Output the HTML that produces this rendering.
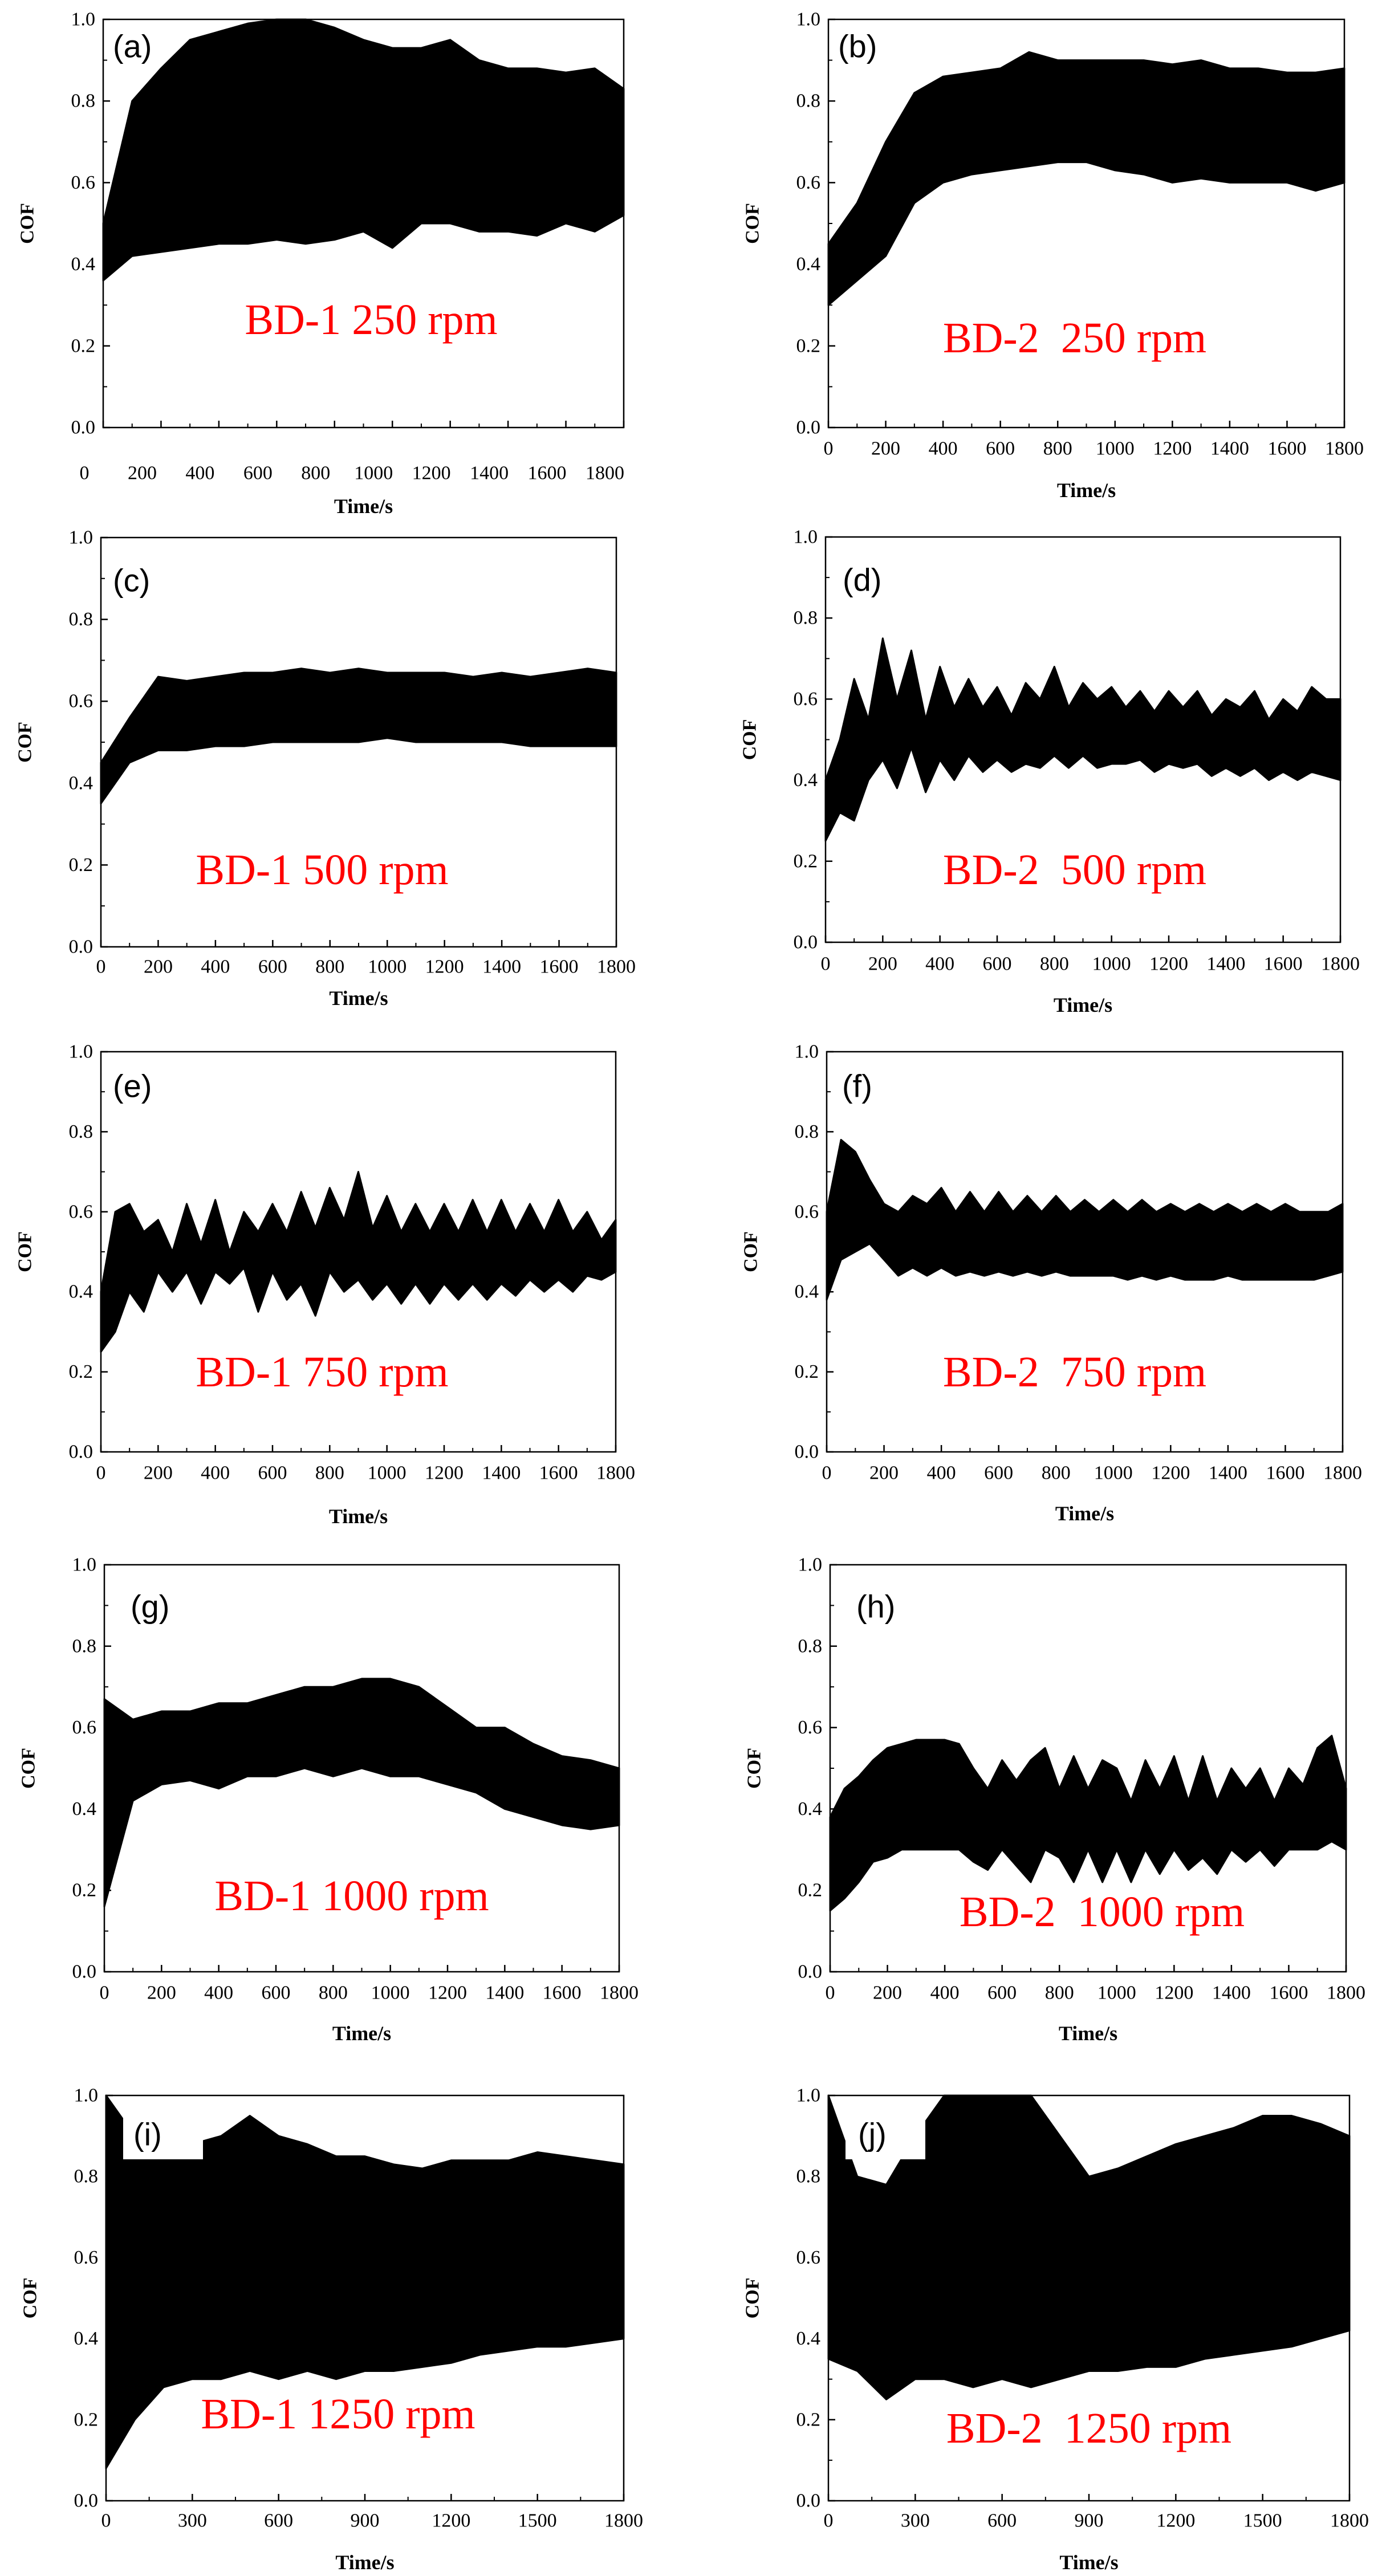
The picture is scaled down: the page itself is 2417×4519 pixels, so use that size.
<!DOCTYPE html>
<html><head><meta charset="utf-8">
<style>
html,body{margin:0;padding:0;background:#fff;}
svg{display:block;}
</style></head>
<body>
<svg id="fig" xmlns="http://www.w3.org/2000/svg" width="2417" height="4519" viewBox="0 0 2417 4519"></svg>
<script>
// ---- data (COF envelopes) ----
const yTicks = [0.0, 0.2, 0.4, 0.6, 0.8, 1.0];
const yTickLabels = ["0.0","0.2","0.4","0.6","0.8","1.0"];
const xTicks200 = [0,200,400,600,800,1000,1200,1400,1600,1800];
const xTicks300 = [0,300,600,900,1200,1500,1800];
const T100 = [0,100,200,300,400,500,600,700,800,900,1000,1100,1200,1300,1400,1500,1600,1700,1800];
const T50 = [0,50,100,150,200,250,300,350,400,450,500,550,600,650,700,750,800,850,900,950,1000,1050,1100,1150,1200,1250,1300,1350,1400,1450,1500,1550,1600,1650,1700,1750,1800];

const aHi = [0.5,0.8,0.88,0.95,0.97,0.99,1.0,1.0,0.98,0.95,0.93,0.93,0.95,0.9,0.88,0.88,0.87,0.88,0.83];
const aLo = [0.36,0.42,0.43,0.44,0.45,0.45,0.46,0.45,0.46,0.48,0.44,0.5,0.5,0.48,0.48,0.47,0.5,0.48,0.52];
const bHi = [0.45,0.55,0.7,0.82,0.86,0.87,0.88,0.92,0.9,0.9,0.9,0.9,0.89,0.9,0.88,0.88,0.87,0.87,0.88];
const bLo = [0.3,0.36,0.42,0.55,0.6,0.62,0.63,0.64,0.65,0.65,0.63,0.62,0.6,0.61,0.6,0.6,0.6,0.58,0.6];
const cHi = [0.45,0.56,0.66,0.65,0.66,0.67,0.67,0.68,0.67,0.68,0.67,0.67,0.67,0.66,0.67,0.66,0.67,0.68,0.67];
const cLo = [0.35,0.45,0.48,0.48,0.49,0.49,0.5,0.5,0.5,0.5,0.51,0.5,0.5,0.5,0.5,0.49,0.49,0.49,0.49];
const dHi = [0.4,0.5,0.65,0.55,0.75,0.6,0.72,0.55,0.68,0.58,0.65,0.58,0.63,0.56,0.64,0.6,0.68,0.58,0.64,0.6,0.63,0.58,0.62,0.57,0.62,0.58,0.62,0.56,0.6,0.58,0.62,0.55,0.6,0.57,0.63,0.6,0.6];
const dLo = [0.25,0.32,0.3,0.4,0.45,0.38,0.48,0.37,0.45,0.4,0.46,0.42,0.45,0.42,0.44,0.43,0.46,0.43,0.46,0.43,0.44,0.44,0.45,0.42,0.44,0.43,0.44,0.41,0.43,0.41,0.43,0.4,0.42,0.4,0.42,0.41,0.4];
const eHi = [0.4,0.6,0.62,0.55,0.58,0.5,0.62,0.52,0.63,0.5,0.6,0.55,0.62,0.55,0.65,0.56,0.66,0.58,0.7,0.56,0.64,0.55,0.62,0.55,0.62,0.55,0.63,0.55,0.63,0.55,0.62,0.55,0.63,0.55,0.6,0.53,0.58];
const eLo = [0.25,0.3,0.4,0.35,0.45,0.4,0.45,0.37,0.45,0.42,0.46,0.35,0.45,0.38,0.42,0.34,0.45,0.4,0.43,0.38,0.42,0.37,0.42,0.37,0.42,0.38,0.42,0.38,0.42,0.39,0.43,0.4,0.43,0.4,0.44,0.43,0.45];
const fHi = [0.6,0.78,0.75,0.68,0.62,0.6,0.64,0.62,0.66,0.6,0.65,0.6,0.65,0.6,0.64,0.6,0.64,0.6,0.63,0.6,0.63,0.6,0.63,0.6,0.62,0.6,0.62,0.6,0.62,0.6,0.62,0.6,0.62,0.6,0.6,0.6,0.62];
const fLo = [0.38,0.48,0.5,0.52,0.48,0.44,0.46,0.44,0.46,0.44,0.45,0.44,0.45,0.44,0.45,0.44,0.45,0.44,0.44,0.44,0.44,0.43,0.44,0.43,0.44,0.43,0.43,0.43,0.44,0.43,0.43,0.43,0.43,0.43,0.43,0.44,0.45];
const gHi = [0.67,0.62,0.64,0.64,0.66,0.66,0.68,0.7,0.7,0.72,0.72,0.7,0.65,0.6,0.6,0.56,0.53,0.52,0.5];
const gLo = [0.16,0.42,0.46,0.47,0.45,0.48,0.48,0.5,0.48,0.5,0.48,0.48,0.46,0.44,0.4,0.38,0.36,0.35,0.36];
const hHi = [0.38,0.45,0.48,0.52,0.55,0.56,0.57,0.57,0.57,0.56,0.5,0.45,0.52,0.47,0.52,0.55,0.45,0.53,0.45,0.52,0.5,0.42,0.52,0.45,0.53,0.42,0.53,0.42,0.5,0.45,0.5,0.42,0.5,0.46,0.55,0.58,0.45];
const hLo = [0.15,0.18,0.22,0.27,0.28,0.3,0.3,0.3,0.3,0.3,0.27,0.25,0.3,0.26,0.22,0.3,0.28,0.22,0.3,0.22,0.3,0.22,0.3,0.24,0.3,0.25,0.28,0.24,0.3,0.27,0.3,0.26,0.3,0.3,0.3,0.32,0.3];
const iHi = [1.0,0.9,0.85,0.88,0.9,0.95,0.9,0.88,0.85,0.85,0.83,0.82,0.84,0.84,0.84,0.86,0.85,0.84,0.83];
const iLo = [0.08,0.2,0.28,0.3,0.3,0.32,0.3,0.32,0.3,0.32,0.32,0.33,0.34,0.36,0.37,0.38,0.38,0.39,0.4];
const jHi = [1.0,0.8,0.78,0.9,1.0,1.0,1.0,1.0,0.9,0.8,0.82,0.85,0.88,0.9,0.92,0.95,0.95,0.93,0.9];
const jLo = [0.35,0.32,0.25,0.3,0.3,0.28,0.3,0.28,0.3,0.32,0.32,0.33,0.33,0.35,0.36,0.37,0.38,0.4,0.42];

// ---- layout ----
const panels = [
 {id:"a",L:181,R:1094,T:34,B:750,t:T100,hi:aHi,lo:aLo,xt:xTicks200,lab:80,tim:138,shift:-33,title:"BD-1 250 rpm",cx:651,cy:561,px:17,py:47},
 {id:"b",L:1453,R:2358,T:34,B:750,t:T100,hi:bHi,lo:bLo,xt:xTicks200,lab:37,tim:110,shift:0,title:"BD-2  250 rpm",cx:1885,cy:593,px:17,py:47},
 {id:"c",L:177,R:1081,T:943,B:1661,t:T100,hi:cHi,lo:cLo,xt:xTicks200,lab:35,tim:90,shift:0,title:"BD-1 500 rpm",cx:565,cy:1526,px:21,py:75},
 {id:"d",L:1448,R:2351,T:942,B:1653,t:T50,hi:dHi,lo:dLo,xt:xTicks200,lab:38,tim:110,shift:0,title:"BD-2  500 rpm",cx:1885,cy:1526,px:30,py:75},
 {id:"e",L:177,R:1080,T:1845,B:2547,t:T50,hi:eHi,lo:eLo,xt:xTicks200,lab:37,tim:113,shift:0,title:"BD-1 750 rpm",cx:565,cy:2407,px:21,py:60},
 {id:"f",L:1450,R:2355,T:1845,B:2547,t:T50,hi:fHi,lo:fLo,xt:xTicks200,lab:37,tim:108,shift:0,title:"BD-2  750 rpm",cx:1885,cy:2407,px:27,py:60},
 {id:"g",L:183,R:1086,T:2745,B:3459,t:T100,hi:gHi,lo:gLo,xt:xTicks200,lab:37,tim:108,shift:0,title:"BD-1 1000 rpm",cx:617,cy:3326,px:46,py:73},
 {id:"h",L:1456,R:2361,T:2745,B:3459,t:T50,hi:hHi,lo:hLo,xt:xTicks200,lab:37,tim:108,shift:0,title:"BD-2  1000 rpm",cx:1933,cy:3354,px:46,py:73},
 {id:"i",L:186,R:1094,T:3676,B:4387,t:T100,hi:iHi,lo:iLo,xt:xTicks300,lab:35,tim:108,shift:0,title:"BD-1 1250 rpm",cx:593,cy:4235,px:48,py:68,box:true},
 {id:"j",L:1453,R:2367,T:3676,B:4387,t:T100,hi:jHi,lo:jLo,xt:xTicks300,lab:35,tim:108,shift:0,title:"BD-2  1250 rpm",cx:1910,cy:4260,px:52,py:68,box:true}
];
const NS = "http://www.w3.org/2000/svg";
const svg = document.getElementById("fig");
function mk(tag, attrs, parent){const e=document.createElementNS(NS,tag);for(const k in attrs)e.setAttribute(k,attrs[k]);(parent||svg).appendChild(e);return e;}
const serif = '"Liberation Serif", serif';

panels.forEach(p=>{
  const g = mk("g",{});
  
  
  const xs = v => p.L + (v/1800)*(p.R-p.L);
  const ys = v => p.B - v*(p.B-p.T);
  let d = "M" + xs(p.t[0]) + "," + ys(p.hi[0]);
  for(let k=1;k<p.t.length;k++) d += " L" + xs(p.t[k]) + "," + ys(p.hi[k]);
  for(let k=p.t.length-1;k>=0;k--) d += " L" + xs(p.t[k]) + "," + ys(p.lo[k]);
  d += " Z";
  const area = mk("path",{d:d,fill:"#000",stroke:"#000","stroke-width":3,"stroke-linejoin":"round"},g);
  
  
  if(p.box){
    const bx = mk("rect",{x:p.L+30,y:p.T+2,width:140,height:110,fill:"#fff"},g);
    
    
  }
  const fr = mk("rect",{x:p.L,y:p.T,width:p.R-p.L,height:p.B-p.T,fill:"none",stroke:"#000","stroke-width":2.5},g);
  
  
  yTicks.forEach((v,k)=>{
    mk("line",{x1:p.L,x2:p.L+12,y1:ys(v),y2:ys(v),stroke:"#000","stroke-width":2.5},g);
    if(k<yTicks.length-1) mk("line",{x1:p.L,x2:p.L+7,y1:ys(v+0.1),y2:ys(v+0.1),stroke:"#000","stroke-width":2},g);
    const t = mk("text",{x:p.L-14,y:ys(v),"text-anchor":"end","dominant-baseline":"central","font-family":serif,"font-size":34,fill:"#000"},g);
    t.textContent = yTickLabels[k];
    
    
  });
  const step = p.xt[1]-p.xt[0];
  p.xt.forEach((v,k)=>{
    mk("line",{x1:xs(v),x2:xs(v),y1:p.B,y2:p.B-12,stroke:"#000","stroke-width":2.5},g);
    if(k<p.xt.length-1) mk("line",{x1:xs(v+step/2),x2:xs(v+step/2),y1:p.B,y2:p.B-7,stroke:"#000","stroke-width":2},g);
    const t = mk("text",{x:xs(v)+p.shift,y:p.B+p.lab,"text-anchor":"middle","dominant-baseline":"central","font-family":serif,"font-size":34,fill:"#000"},g);
    t.textContent = String(v);
    
    
  });
  const xt = mk("text",{x:(p.L+p.R)/2,y:p.B+p.tim,"text-anchor":"middle","dominant-baseline":"central","font-family":serif,"font-size":36,"font-weight":"bold",fill:"#000"},g);
  xt.textContent = "Time/s";
  
  
  const yc = (p.T+p.B)/2, yx = p.L-133;
  const yt = mk("text",{x:yx,y:yc,"text-anchor":"middle","dominant-baseline":"central","font-family":serif,"font-size":34,"font-weight":"bold",fill:"#000",transform:"rotate(-90 "+yx+" "+yc+")"},g);
  yt.textContent = "COF";
  
  
  const ann = mk("text",{x:p.cx,y:p.cy,"text-anchor":"middle","dominant-baseline":"central","font-family":serif,"font-size":76,fill:"#ff0000",style:"white-space:pre"},g);
  ann.textContent = p.title;
  
  
  const pl = mk("text",{x:p.L+p.px,y:p.T+p.py,"dominant-baseline":"central","font-family":'"Liberation Sans", sans-serif',"font-size":56,fill:"#000"},g);
  pl.textContent = "(" + p.id + ")";
  
  
});
</script>
</body></html>
